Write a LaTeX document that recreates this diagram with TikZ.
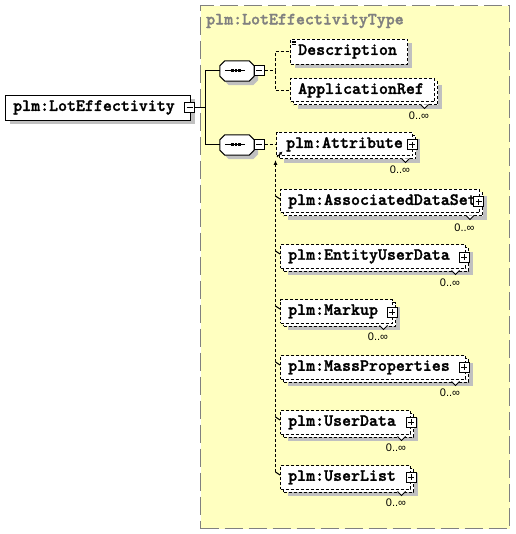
\documentclass[tikz,border=0pt]{standalone}
\usepackage{fontspec}
\usetikzlibrary{shadows,arrows.meta}
\newfontfamily\multfont{Liberation Sans}
\newfontfamily\elfam{lmmonolt10-bold.otf}[FakeBold=1.6]
\definecolor{bgyellow}{RGB}{255,255,192}
\definecolor{shadowgray}{RGB}{192,192,192}
\definecolor{framegray}{RGB}{128,128,128}
\newcommand{\elfont}{\elfam\fontsize{17.1}{17.1}\selectfont}
\newcommand{\octpath}[1]{([xshift=5pt]#1.north west) -- ([xshift=-5pt]#1.north east) -- ([yshift=-5pt]#1.north east) -- ([yshift=5pt]#1.south east) -- ([xshift=-5pt]#1.south east) -- ([xshift=5pt]#1.south west) -- ([yshift=5pt]#1.south west) -- ([yshift=-5pt]#1.north west) -- cycle}
\tikzset{
  elshadow/.style={drop shadow={shadow xshift=4pt,shadow yshift=-4pt,fill=shadowgray,opacity=1}},
  solidbox/.style={draw=black,line width=1pt,fill=white,rectangle,inner sep=0pt,anchor=north west},
  dashbox/.style={solidbox,dash pattern=on 3pt off 2pt},
  eltext/.style={font=\elfont,inner sep=0pt,anchor=west},
  mult/.style={font=\multfont\fontsize{11}{11}\selectfont,inner sep=0pt},
  signbox/.style={draw=black,line width=1pt,fill=white,minimum size=10pt,inner sep=0pt,rectangle},
  minusbox/.style={signbox,path picture={\draw[line width=1pt] ([xshift=-3pt]path picture bounding box.center)--([xshift=3pt]path picture bounding box.center);}},
  plusbox/.style={signbox,path picture={\draw[line width=1pt] ([xshift=-3pt]path picture bounding box.center)--([xshift=3pt]path picture bounding box.center) ([yshift=-3pt]path picture bounding box.center)--([yshift=3pt]path picture bounding box.center);}},
  seqanchor/.style={rectangle,draw=none,minimum width=34pt,minimum height=20pt,inner sep=0pt},
  solidline/.style={draw=black,line width=1pt},
  dashline/.style={draw=black,line width=1pt,dash pattern=on 3pt off 2pt},
  notch/.style={draw=black,line width=1pt,fill=white},
}
% repeated element: name, x0, y0, width, text x, text, label x, label y
\newcommand{\repel}[8]{%
  \node[dashbox,elshadow,minimum width=#4pt,minimum height=23.5pt] (#1B) at (#2+3,#3+3) {};
  \node[dashbox,minimum width=#4pt,minimum height=23.5pt] (#1) at (#2,#3) {};
  \node[eltext] (#1T) at (#5,#3+12.4) {#6};
  \node[mult] (#1M) at (#7,#8) {0..∞};
  \draw[notch] (#7+1.5,#3+26.5) -- (#7+5.5,#3+30.5) -- (#7+9.5,#3+26.5);
}
\begin{document}
\begin{tikzpicture}[x=1pt,y=-1pt]
\useasboundingbox (0,0) rectangle (515,534);
% type frame
\node[rectangle,draw=framegray,fill=bgyellow,line width=1.3pt,dash pattern=on 18pt off 6pt,minimum width=309pt,minimum height=523pt,anchor=north west,inner sep=0pt] (typebox) at (200,5) {};
\node[eltext,text=framegray] (title) at (206,21) {plm:LotEffectivityType};

% main element
\node[solidbox,elshadow,minimum width=185pt,minimum height=25pt] (main) at (5,95) {};
\node[eltext] (mainT) at (13,107.5) {plm:LotEffectivity};
\node[minusbox] (m0) at (189.5,108) {};

% sequences
\node[seqanchor] (seq1) at (237,71) {};
\node[seqanchor] (seq2) at (237,145) {};
\foreach \s in {seq1,seq2}{
  \draw[line width=1pt,fill=white,elshadow] \octpath{\s};
  \draw[line width=1pt] ([xshift=-12pt]\s.center) -- ([xshift=8pt]\s.center);
  \foreach \d in {-6,-2.5,1}{
    \fill ([xshift=\d pt,yshift=-1.5pt]\s.center) rectangle ([xshift=\d pt+2.6pt,yshift=1.5pt]\s.center);
  }
}
\node[minusbox] (s1m) at (259,71) {};
\node[minusbox] (s2m) at (259,145) {};

% connectors from main
\coordinate (j0) at (205,108);
\draw[solidline] (m0.east) -- (j0) |- (seq1.west);
\draw[solidline] (j0) |- (seq2.west);

% first sequence children
\node[dashbox,elshadow,minimum width=117pt,minimum height=25pt] (desc) at (290,39) {};
\node[eltext] (descT) at (298,51.5) {Description};
\draw[line width=0.8pt] ([xshift=1.5pt,yshift=-2pt]desc.north west) -- ++(4pt,0)
  ([xshift=1.5pt,yshift=-3.6pt]desc.north west) -- ++(4pt,0)
  ([xshift=1.5pt,yshift=-5.2pt]desc.north west) -- ++(4pt,0);
\repel{appref}{290}{78}{144}{298}{ApplicationRef}{419}{116}

\coordinate (j1) at (275,71);
\draw[dashline] (s1m.east) -- (j1) |- (desc.west);
\draw[dashline] (j1) |- (appref.west);

% second sequence children
\repel{attr}{276}{132}{136}{286}{plm:Attribute}{400}{170}
\node[plusbox] (attrP) at (412,145) {};
\repel{ads}{280}{189}{199}{288}{plm:AssociatedDataSet}{464.5}{228}
\node[plusbox] (adsP) at (478.5,202) {};
\repel{eud}{280}{244}{185}{288}{plm:EntityUserData}{450}{283}
\node[plusbox] (eudP) at (464,257) {};
\repel{markup}{280}{299}{112}{288}{plm:Markup}{378}{337}
\node[plusbox] (markupP) at (392,312) {};
\repel{mass}{280}{355}{185}{288}{plm:MassProperties}{450}{393}
\node[plusbox] (massP) at (464,367) {};
\repel{udata}{280}{410}{130}{288}{plm:UserData}{396}{448}
\node[plusbox] (udataP) at (411,422) {};
\repel{ulist}{280}{465}{130}{288}{plm:UserList}{396}{503}
\node[plusbox] (ulistP) at (411,477) {};

\draw[dashline] (s2m.east) -- (s2m.east -| attr.west);
\draw[line width=1pt,-{Latex[length=3.5pt,width=3.5pt]}] ([xshift=1pt,yshift=-25pt]attr.north west) -- ([xshift=6.5pt,yshift=-19.5pt]attr.north west);

\coordinate (vtop) at (275.5,160);
\coordinate (vbot) at (275.5,472);
\draw[dashline,-{Latex[length=5pt,width=4pt]}] (vbot) -- (vtop);
\foreach \b in {ads,eud,markup,mass,udata,ulist}{
  \draw[line width=1pt] ([xshift=-4.5pt,yshift=-7pt]\b.north west) -- ([yshift=-10pt]\b.north west);
}
\end{tikzpicture}
\end{document}
